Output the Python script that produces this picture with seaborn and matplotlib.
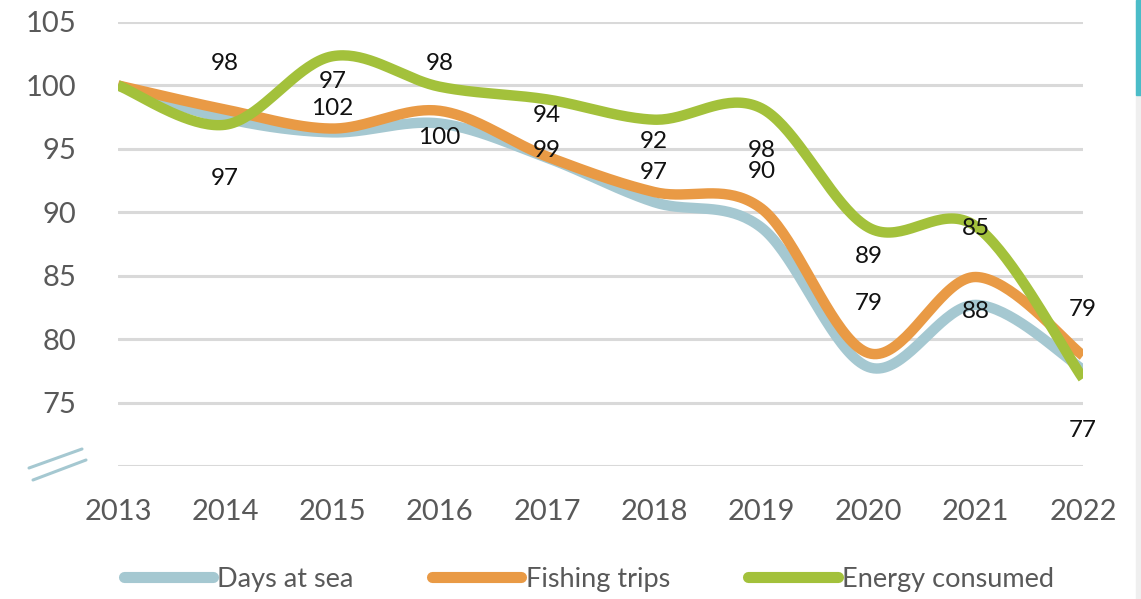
import numpy as np
import pandas as pd
import seaborn as sns
import matplotlib.pyplot as plt
from matplotlib.lines import Line2D
from matplotlib.patches import Rectangle

years = [2013, 2014, 2015, 2016, 2017, 2018, 2019, 2020, 2021, 2022]
days_at_sea = [100, 97.4, 96.3, 97.0, 94.3, 90.8, 88.8, 77.8, 82.7, 77.6]
fishing_trips = [100, 98.1, 96.6, 98.0, 94.4, 91.6, 90.3, 78.9, 84.9, 78.7]
energy_consumed = [100, 96.9, 102.3, 99.9, 98.9, 97.3, 98.2, 88.8, 88.9, 76.9]

# data labels as shown in the source chart: (year, text, y position)
label_year = [2014, 2014, 2015, 2015, 2016, 2016, 2017, 2017, 2018, 2018,
              2019, 2019, 2020, 2020, 2021, 2021, 2022, 2022]
label_text = ["98", "97", "97", "102", "98", "100", "94", "99", "92", "97",
              "98", "90", "89", "79", "85", "88", "79", "77"]
label_y = [101.7, 92.7, 100.3, 98.2, 101.7, 95.9, 97.6, 94.9, 95.6, 93.1,
           94.9, 93.2, 86.5, 82.8, 88.7, 82.2, 82.3, 72.8]

series_names = ["Days at sea", "Fishing trips", "Energy consumed"]
colors = ["#A5C8D1", "#E99A45", "#A3C13B"]


def smooth(xs, ys, n=40):
    # Excel-style smoothed line: cubic bezier through every point
    p = np.column_stack([xs, ys]).astype(float)
    out = []
    for i in range(len(p) - 1):
        p0 = p[max(i - 1, 0)]
        p1, p2 = p[i], p[i + 1]
        p3 = p[min(i + 2, len(p) - 1)]
        c1 = p1 + (p2 - p0) / 6
        c2 = p2 - (p3 - p1) / 6
        t = np.linspace(0, 1, n, endpoint=(i == len(p) - 2))[:, None]
        seg = ((1 - t) ** 3) * p1 + 3 * ((1 - t) ** 2) * t * c1 + 3 * (1 - t) * t ** 2 * c2 + t ** 3 * p2
        out.append(seg)
    return np.vstack(out)


frames = []
for name, vals in zip(series_names, [days_at_sea, fishing_trips, energy_consumed]):
    c = smooth(years, vals)
    frames.append(pd.DataFrame({"x": c[:, 0], "y": c[:, 1], "series": name}))
df = pd.concat(frames, ignore_index=True)

sns.set_theme(style="white")
plt.rcParams["font.family"] = ["Lato", "DejaVu Sans"]

fig = plt.figure(figsize=(11.41, 5.99), dpi=100)
ax = fig.add_axes([118 / 1141, 1 - 466 / 599, (1083 - 118) / 1141, (466 - 22) / 599])

sns.lineplot(data=df, x="x", y="y", hue="series", palette=colors, sort=False,
             estimator=None, linewidth=7.5, ax=ax, legend=True)
for ln in ax.get_lines():
    ln.set_solid_capstyle("butt")
    ln.set_solid_joinstyle("round")

for yr, txt, yy in zip(label_year, label_text, label_y):
    ax.text(yr, yy, txt, ha="center", va="center", fontsize=17.5, color="#111111")

ax.set_xlim(2013, 2022)
ax.set_ylim(70, 105)
ax.set_yticks([70, 75, 80, 85, 90, 95, 100, 105])
ax.set_yticklabels(["", "75", "80", "85", "90", "95", "100", "105"])
ax.set_xticks(years)
ax.set_xticklabels([str(y) for y in years])
ax.tick_params(axis="y", labelsize=21, colors="#595959", length=0, pad=30)
ax.tick_params(axis="x", labelsize=21, colors="#595959", length=0, pad=24)
ax.yaxis.grid(True, color="#D9D9D9", linewidth=2.2)
ax.set_axisbelow(True)
for s in ax.spines.values():
    s.set_visible(False)
ax.set_xlabel("")
ax.set_ylabel("")

handles, labels = ax.get_legend_handles_labels()
ax.get_legend().remove()
leg = fig.legend(handles, labels, loc="center", bbox_to_anchor=(0.516, 1 - 579 / 599),
                 ncol=3, frameon=False, fontsize=19.5, handlelength=3.3,
                 handletextpad=0.15, columnspacing=2.9)
for h in leg.legend_handles:
    h.set_linewidth(8)
    h.set_solid_capstyle("round")
for t in leg.get_texts():
    t.set_color("#595959")

# axis break marks
fig.add_artist(Line2D([29 / 1141, 82 / 1141], [1 - 468 / 599, 1 - 449 / 599],
                      color="#A5C8D1", linewidth=2.2))
fig.add_artist(Line2D([33 / 1141, 86 / 1141], [1 - 480 / 599, 1 - 460 / 599],
                      color="#A5C8D1", linewidth=2.2))

# right edge strip
fig.add_artist(Rectangle((1136 / 1141, 0), 5 / 1141, 1, transform=fig.transFigure,
                         color="#EFEFEF", zorder=0))
fig.add_artist(Rectangle((1136 / 1141, 1 - 95 / 599), 5 / 1141, 95 / 599,
                         transform=fig.transFigure, color="#4BBCC8", zorder=1))

fig.savefig("out.png", dpi=100)
